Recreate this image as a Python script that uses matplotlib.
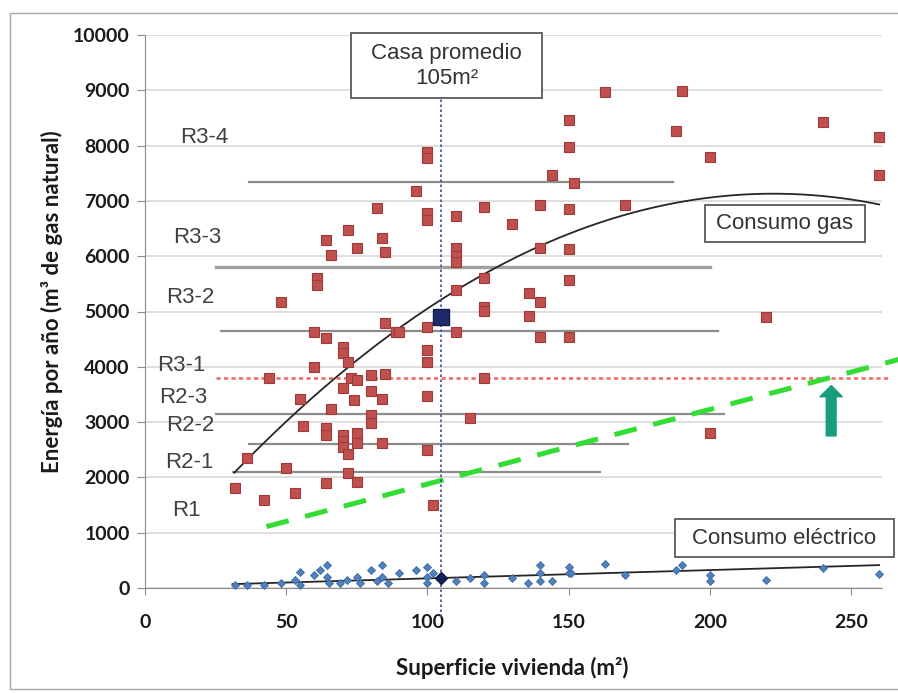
import numpy as np
import matplotlib.pyplot as plt
from matplotlib.patches import Rectangle

plt.rcParams['font.family'] = ['Liberation Sans', 'DejaVu Sans']

# gas use per dwelling (m3 natural gas / yr) vs floor area (m2)
gas_area = [82, 72, 64, 84, 75, 66, 85, 61, 61, 48,
            163, 150, 150, 100, 100, 144, 96, 152, 120, 140, 150, 170, 100, 100, 110, 130,
            110, 110, 110, 140, 150, 150, 120, 110, 136, 140, 120,
            190, 188, 200, 240, 260, 260,
            85, 89, 60, 64, 70, 70, 72, 60, 44, 73, 75, 80, 85, 70, 80, 74, 84, 55, 66,
            80, 80, 56, 64, 64, 70, 70, 70, 75, 75, 84, 72, 36, 50, 72, 75, 64, 32, 53, 42,
            120, 136, 100, 90, 110, 140, 150, 100, 100, 120, 100, 115, 100, 102,
            220, 200]
gas_energy = [6870, 6470, 6290, 6330, 6150, 6020, 6080, 5600, 5480, 5170,
              8970, 8460, 7970, 7880, 7780, 7470, 7180, 7320, 6890, 6930, 6850, 6930, 6780, 6650, 6730, 6580,
              6150, 6000, 5900, 6150, 6130, 5570, 5600, 5390, 5330, 5170, 5080,
              8990, 8260, 7790, 8430, 8150, 7470,
              4790, 4630, 4630, 4520, 4360, 4250, 4090, 4000, 3800, 3800, 3760, 3850, 3870, 3620, 3560, 3400, 3420, 3420, 3240,
              3130, 2980, 2930, 2890, 2770, 2770, 2650, 2550, 2800, 2620, 2620, 2420, 2350, 2170, 2080, 1920, 1900, 1810, 1720, 1590,
              5010, 4920, 4720, 4630, 4630, 4540, 4540, 4300, 4090, 3800, 3470, 3070, 2500, 1500,
              4900, 2800]

# electricity use (same units) vs floor area
elec_area = [32, 36, 42, 48, 53, 55, 55, 60, 62, 64.5, 64.5, 65, 69, 71.5, 75, 76, 80, 82, 84, 84,
             86, 90, 96, 100, 100, 100, 102, 110, 115, 120, 120, 130, 135.5, 140, 140, 140, 144,
             150, 150, 151, 163, 170, 188, 190, 200, 200, 220, 240, 260]
elec_energy = [50, 50, 60, 90, 145, 295, 55, 235, 325, 415, 205, 90, 90, 145, 205, 90, 325, 120, 415, 205,
               90, 265, 325, 380, 205, 90, 265, 120, 180, 240, 90, 180, 90, 415, 265, 120, 120,
               380, 265, 265, 440, 235, 330, 410, 240, 120, 145, 355, 260]

# average house
avg_area = 105
avg_gas = 4900
avg_elec = 180

# trend lines
gas_fit = [-0.1384, 61.6, 276]
gas_fit_range = [31.6, 260]
elec_fit = [1.5, 24]
elec_fit_range = [31, 260]

# tariff band limits
band_limits = [7350, 5800, 4650, 3150, 2600, 2100]
band_start = [37, 25, 27, 25, 37, 31]
band_end = [187, 200, 203, 205, 171, 161]
band_labels = ['R3-4', 'R3-3', 'R3-2', 'R3-1', 'R2-3', 'R2-2', 'R2-1', 'R1']
band_label_y = [8140, 6330, 5260, 4030, 3450, 2930, 2270, 1400]
band_label_x = [21, 18.4, 16, 13, 13.5, 16, 15.6, 14.5]

threshold = 3800
green_x = [43, 267]
green_y = [1110, 4133]
arrow_x = 243
arrow_from = 2750
arrow_to = 3660

W, H = 898, 693
fig = plt.figure(figsize=(W / 100, H / 100), dpi=100)
ax = fig.add_axes([145 / W, 105 / H, 737 / W, 553 / H])

ax.set_xlim(0, 261)
ax.set_ylim(0, 10000)
ax.set_xticks(range(0, 251, 50))
ax.set_yticks(range(0, 10001, 1000))
ax.yaxis.grid(True, color='#D9D9D9', lw=1.2)
ax.set_axisbelow(True)
for s in ['top', 'right']:
    ax.spines[s].set_visible(False)
for s in ['left', 'bottom']:
    ax.spines[s].set_color('#8C8C8C')
ax.tick_params(axis='y', length=6, color='#8C8C8C', pad=5)
ax.tick_params(axis='x', length=5, color='#8C8C8C', pad=14)
for lbl in ax.get_xticklabels() + ax.get_yticklabels():
    lbl.set_fontfamily('Lato')
    lbl.set_fontweight('bold')
    lbl.set_fontsize(14)
    lbl.set_color('#1A1A1A')

ax.set_xlabel('Superficie vivienda (m²)', family='Lato', weight='bold', size=16, color='#1A1A1A')
ax.set_ylabel('Energía por año (m³ de gas natural)', family='Lato', weight='bold', size=16, color='#1A1A1A')
ax.xaxis.set_label_coords((512 - 145) / 737, -(657 - 588) / 553)
ax.yaxis.set_label_coords(-(145 - 63) / 737, (588 - 302) / 553)

# band limits
for lim, x0, x1 in zip(band_limits, band_start, band_end):
    lw = 2.4 if lim == 5800 else 1.6
    col = '#A0A0A0' if lim == 5800 else '#8C8C8C'
    ax.plot([x0, x1], [lim, lim], color=col, lw=lw, zorder=1)
for txt, x, y in zip(band_labels, band_label_x, band_label_y):
    ax.text(x, y, txt, ha='center', va='center', size=16, color='#404040', zorder=2)

ax.plot([band_start[3], 263], [threshold, threshold], color='#F07070', lw=2,
        ls=(0, (1.5, 1.2)), zorder=2, clip_on=False)
ax.plot(green_x, green_y, color='#33DD33', lw=3.6, ls=(0, (4.6, 3.4)),
        solid_capstyle='butt', dash_capstyle='butt', zorder=3, clip_on=False)

xs = np.linspace(gas_fit_range[0], gas_fit_range[1], 200)
ax.plot(xs, np.polyval(gas_fit, xs), color='#262626', lw=1.3, zorder=4)
xe = np.linspace(elec_fit_range[0], elec_fit_range[1], 50)
ax.plot(xe, np.polyval(elec_fit, xe), color='#262626', lw=1.3, zorder=4)

ax.plot(gas_area, gas_energy, ls='none', marker='s', ms=7, mfc='#C0504D', mec='#9E3B38',
        mew=0.8, zorder=5, clip_on=False)
ax.plot(elec_area, elec_energy, ls='none', marker='D', ms=4.2, mfc='#4F81BD', mec='#3C6A9E',
        mew=0.6, zorder=5, clip_on=False)
ax.plot([avg_area], [avg_gas], ls='none', marker='s', ms=12, mfc='#1F2A6B', mec='#141C4F',
        zorder=7)
ax.plot([avg_area], [avg_elec], ls='none', marker='D', ms=6, mfc='#14205A', mec='#0D1540',
        zorder=7, clip_on=False)

ax.plot([avg_area, avg_area], [-530, 8860], color='#3A4FA8', lw=1.2, ls=(0, (1.5, 1.5)),
        zorder=6, clip_on=False)

ax.annotate('', xy=(arrow_x, arrow_to), xytext=(arrow_x, arrow_from),
            arrowprops=dict(width=7, headwidth=16, headlength=8, color='#179C7D', shrink=0),
            zorder=6)


def boxed_text(x0, y0, x1, y1, text):
    fig.patches.append(Rectangle((x0 / W, 1 - y1 / H), (x1 - x0) / W, (y1 - y0) / H,
                                 transform=fig.transFigure, fc='white', ec='#595959',
                                 lw=1.3, zorder=10))
    fig.text((x0 + x1) / 2 / W, 1 - (y0 + y1) / 2 / H, text, ha='center', va='center',
             size=16, color='#333333', zorder=11, linespacing=1.25)


boxed_text(351, 33, 542, 98, 'Casa promedio\n105m²')
boxed_text(705, 205, 865, 242, 'Consumo gas')
boxed_text(675, 519, 894, 557, 'Consumo eléctrico')

# outer frame of the picture
fig.patches.append(Rectangle((10 / W, 1 - 689 / H), 1.2, (689 - 13) / H, transform=fig.transFigure,
                             fill=False, ec='#A6A6A6', lw=1, zorder=0))

fig.savefig('out.png', dpi=100)
